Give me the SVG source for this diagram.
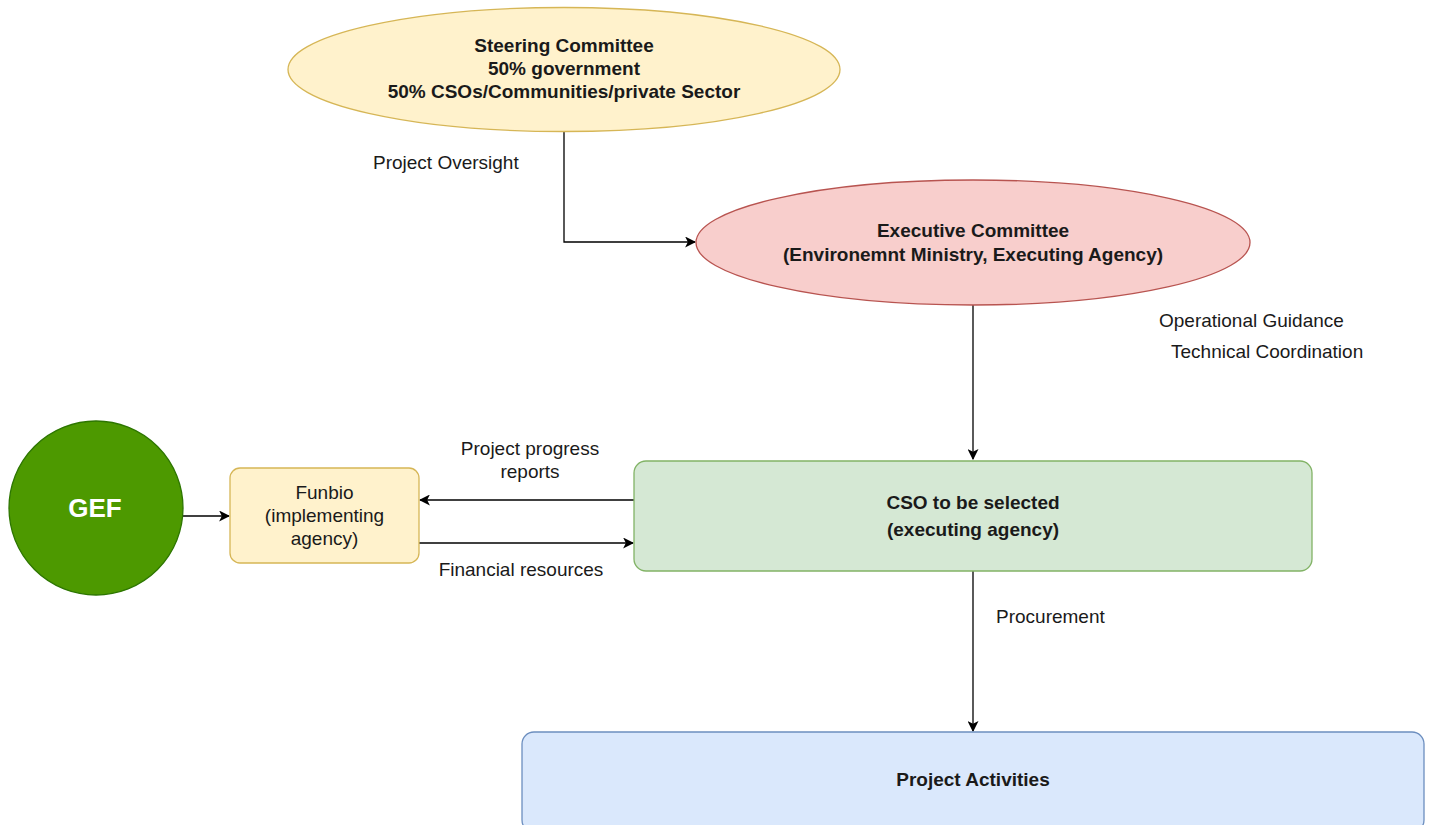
<svg xmlns="http://www.w3.org/2000/svg" width="1430" height="825" viewBox="0 0 1430 825">
<defs>
<marker id="arr" viewBox="0 0 10 10" refX="9" refY="5" markerWidth="11" markerHeight="11" markerUnits="userSpaceOnUse" orient="auto">
<path d="M0,0 L10,5 L0,10 L2.5,5 Z" fill="#000"/>
</marker>
<style>
text{font-family:"Liberation Sans",Arial,sans-serif;font-size:19px;fill:#1a1a1a;text-anchor:middle}
.b{font-weight:bold}
.lbl{text-anchor:start}
.edge{fill:none;stroke:#000;stroke-width:1.3;marker-end:url(#arr)}
</style>
</defs>
<rect width="1430" height="825" fill="#fff"/>
<g id="connectors">
<path class="edge" d="M564,132 V242 H695"/>
<path class="edge" d="M973,305 V459"/>
<path class="edge" d="M183,516 H229"/>
<path class="edge" d="M634,500 H420"/>
<path class="edge" d="M419,543 H633"/>
<path class="edge" d="M973,571 V731"/>
<text class="lbl" x="373" y="169">Project Oversight</text>
<text class="lbl" x="1159" y="327">Operational Guidance</text>
<text class="lbl" x="1171" y="358">Technical Coordination</text>
<text x="530" y="455">Project progress</text>
<text x="530" y="478">reports</text>
<text x="521" y="576">Financial resources</text>
<text class="lbl" x="996" y="623">Procurement</text>
</g>
<g id="steering">
<ellipse cx="564" cy="69.5" rx="276" ry="62" fill="#fff2cc" stroke="#d6b656" stroke-width="1.3"/>
<text class="b" x="564" y="52">Steering Committee</text>
<text class="b" x="564" y="75">50% government</text>
<text class="b" x="564" y="98">50% CSOs/Communities/private Sector</text>
</g>
<g id="executive">
<ellipse cx="973" cy="242.5" rx="277" ry="62.5" fill="#f8cecc" stroke="#b85450" stroke-width="1.3"/>
<text class="b" x="973" y="237">Executive Committee</text>
<text class="b" x="973" y="261">(Environemnt Ministry, Executing Agency)</text>
</g>
<g id="gef">
<circle cx="96" cy="508" r="87" fill="#4d9900" stroke="#2d7600" stroke-width="1.3"/>
<text class="b" x="95" y="517" style="font-size:26px;fill:#fff">GEF</text>
</g>
<g id="funbio">
<rect x="230" y="468" width="189" height="95" rx="10" fill="#fff2cc" stroke="#d6b656" stroke-width="1.3"/>
<text x="324.5" y="499">Funbio</text>
<text x="324.5" y="522">(implementing</text>
<text x="324.5" y="545">agency)</text>
</g>
<g id="cso">
<rect x="634" y="461" width="678" height="110" rx="12" fill="#d5e8d4" stroke="#82b366" stroke-width="1.3"/>
<text class="b" x="973" y="509">CSO to be selected</text>
<text class="b" x="973" y="536">(executing agency)</text>
</g>
<g id="activities">
<rect x="522" y="732" width="902" height="100" rx="12" fill="#dae8fc" stroke="#6c8ebf" stroke-width="1.3"/>
<text class="b" x="973" y="786">Project Activities</text>
</g>
</svg>
